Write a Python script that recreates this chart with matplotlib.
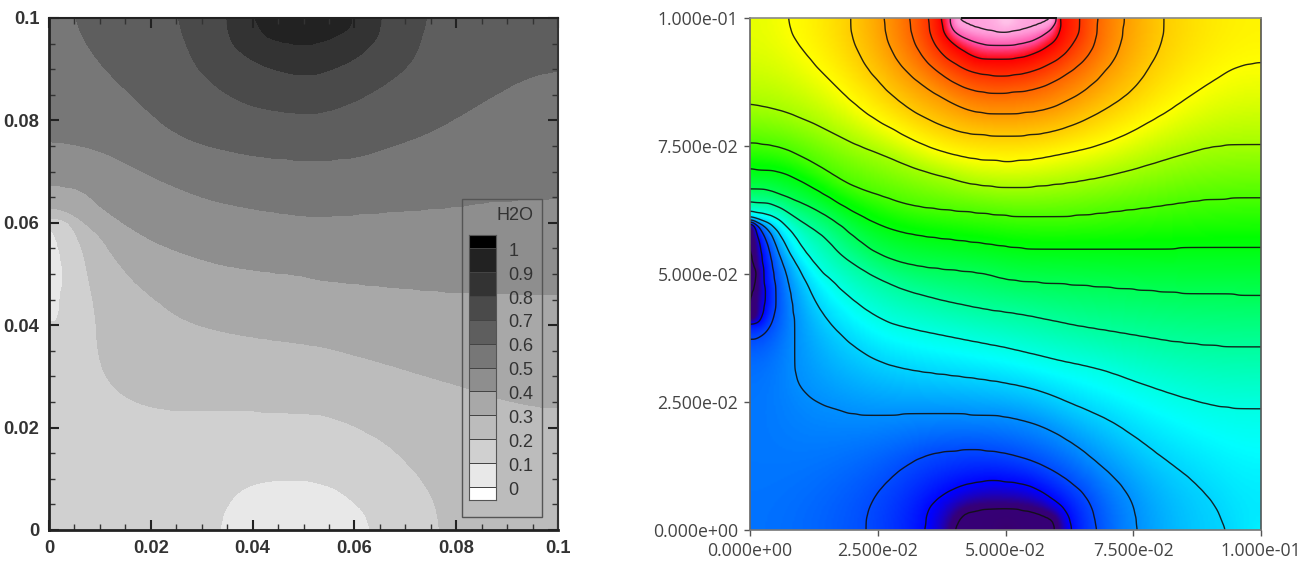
import numpy as np
import matplotlib
matplotlib.use("Agg")
import matplotlib.pyplot as plt
from matplotlib.colors import LinearSegmentedColormap
from matplotlib.patches import Rectangle
from matplotlib.tri import Triangulation, LinearTriInterpolator

# ---------- Left panel: H2O iso-lines (x, y in 1e-3 units) ----------
h2o_levels = [0.1, 0.2, 0.3, 0.4, 0.5, 0.6, 0.7, 0.8, 0.9]
h2o_greys = ['#ffffff', '#e8e8e8', '#d0d0d0', '#bcbcbc', '#a8a8a8', '#8e8e8e', '#777777',
             '#5e5e5e', '#4a4a4a', '#333333', '#222222', '#000000']
h2o_legend_labels = ['0', '0.1', '0.2', '0.3', '0.4', '0.5', '0.6', '0.7', '0.8', '0.9', '1']

h2o_01_bottom = [(33.3,0),(34.3,3.9),(36.9,7.5),(40.8,9.4),(47.3,10.1),(51.3,9.8),(55.9,8.5),(59.8,5.9),(62.4,3.3),(63.6,0)]
h2o_01_left = [(0,59.9),(1.8,57.9),(2.8,52.1),(2.8,46.2),(2.2,40.4),(0,40)]
h2o_02 = [(0,60.9),(3.8,60.2),(6.4,55.3),(7.7,49.5),(9,42.3),(9.7,34.5),(11.3,29.9),(14.6,26.4),(19.8,24.2),(27,23.3),(36.2,23.4),(49.3,22.8),(53.9,22.5),(60.4,20.2),(67,16.3),(72.2,11.1),(75.5,5.9),(76.8,0)]
h2o_03 = [(0,63),(4.1,61.8),(9.4,57.9),(13.3,52.7),(16.6,48.8),(21.2,44.9),(27,41),(36.2,38.4),(49.3,36.5),(53.9,35.8),(63.7,33.2),(73.5,30.3),(81.4,28),(88.6,25.7),(96.8,24.1),(100,24.1)]
h2o_04 = [(0,67.4),(6.1,66.4),(10,63.2),(16.6,58.6),(23.1,55.3),(32.9,52.1),(42.8,50.5),(49.3,49.8),(53.9,48.8),(67,47.5),(80,46.5),(100,46.2)]
h2o_05 = [(0,75.8),(3.5,75.5),(9.4,74.2),(15.3,71.6),(21.8,68.4),(31,64.8),(40.1,62.8),(49.3,61.5),(53.9,61.3),(67,62.2),(80,63.2),(86.6,64.1),(100,64.8)]
h2o_06 = [(5.1,100),(7.4,95),(11.3,89.8),(16.6,84.6),(23.1,78.8),(29.7,75.5),(40.1,73.2),(49.3,72.3),(53.9,72.3),(60.4,72.9),(67,74.9),(74.8,77.8),(81.4,81.4),(88,85.3),(94.5,88.5),(100,89.8)]
h2o_07 = [(25.4,100),(27,95),(29.7,89.8),(34.9,85.3),(40.8,82.7),(49.3,81.4),(53.9,81.7),(60.4,84),(67,87.9),(71.6,92.4),(74.2,100)]
h2o_08 = [(34.9,100),(36.2,95),(41.5,91.1),(49.3,88.9),(53.9,89.5),(60.4,92.4),(64.4,96.3),(65.2,100)]
h2o_09 = [(39.8,100),(42.8,96),(49.3,94.7),(53.9,95.3),(59.1,97.6),(60.1,100)]
h2o_anchor_xy = [(50,100),(50,0),(0,50),(0,0),(100,0),(0,100),(100,100)]
h2o_anchor_v = [0.98,0.05,0.05,0.15,0.25,0.57,0.63]

# ---------- Right panel: iso-lines numbered 1..19 from the lowest value ----------
iso_01_bottom = [(60.3,0),(59.4,2.3),(55,3.9),(48.6,4.4),(45,4.2),(41.4,3.3),(39.5,0)]
iso_01_left = [(0,41.1),(0.65,41.1),(1,43),(1.2,48.8),(1,54.7),(0.5,58.9),(0,59.9)]
iso_02_bottom = [(34.2,0),(34.9,3.9),(37.2,6.5),(41.1,8.5),(45,9.4),(48.6,9.6),(55,8.5),(60.3,5.2),(62.3,2.6),(62.9,0)]
iso_02_left = [(0,40.4),(1.3,40.4),(2.3,41.7),(2.9,44.9),(2.7,49.5),(2.1,54.7),(0.7,59.6),(0,60)]
iso_03_bottom = [(22.7,0),(23.2,3.9),(25.4,7.8),(29.4,11.7),(34.6,14.6),(40.4,15.5),(45,15.6),(50.6,14.8),(57.1,12.7),(63,9.1),(66.5,5.2),(67.9,0)]
iso_03_left = [(0,37.4),(1.3,37.4),(3.6,39.4),(4.9,43),(5,46.9),(4.2,52.7),(2.9,57.3),(1,60),(0,60.2)]
iso_04 = [(0,60.6),(3.6,58.6),(5.9,53.4),(7.4,48.8),(8.5,42.3),(8.7,36),(8.6,33),(9.2,29.3),(10.8,26.8),(13.7,24.7),(17.6,23.4),(19.6,22.8),(24.8,22.3),(32.6,22.7),(45,22.5),(50.6,22),(57.1,20.2),(63.6,16.6),(68.8,12.4),(72.8,8.5),(75,4.6),(75.8,0)]
iso_05 = [(0,61.2),(4.6,59.2),(7.8,54),(10.8,48.8),(13,44.3),(15.7,40.4),(19.6,36.5),(24.8,33.2),(31.3,31.3),(44,29.6),(50.6,28.6),(57.1,27),(63.6,24.4),(70.1,21.5),(75.3,18.2),(80.5,14.3),(86.4,9.8),(90.7,5.2),(93.3,0)]
iso_06 = [(0,62.2),(4.6,61.2),(7.8,58.6),(11.1,54),(14.4,50.1),(16,48.8),(20.2,44.9),(26.1,41),(32.6,39.1),(44,36.8),(50.6,35.5),(60.3,33.2),(68.8,31.3),(76.6,28.6),(84.4,26),(92.3,24.1),(100,23.8)]
iso_07 = [(0,64.1),(4.6,63.5),(9.1,60.9),(14.4,57.3),(17.6,54),(21,51.5),(25.8,48.8),(32.6,46.2),(44,43.5),(53.8,42),(63.6,40),(73.4,38.4),(83.2,36.8),(92.9,35.9),(100,35.8)]
iso_08 = [(0,66.7),(3.3,66.4),(8.5,64.5),(13,62.5),(17.6,59.6),(21,56.8),(25.4,53.8),(32.6,51.6),(45,50.2),(51.2,48.8),(63.6,47.9),(76.6,46.9),(86.4,46.2),(100,45.9)]
iso_09 = [(0,70.5),(6.5,69.7),(13,66.4),(19.6,62.5),(26.1,59.3),(32.6,57.6),(44,56.2),(53.8,55),(63.6,54.7),(76.6,54.8),(89.6,55.2),(100,55.3)]
iso_10 = [(0,75.7),(6.5,74.5),(13,71.3),(19.6,67.4),(26.1,65.1),(32.6,63.2),(44,62),(53.8,61.2),(63.6,61.4),(76.6,62.8),(89.6,64.5),(100,64.8)]
iso_11 = [(0,83.2),(6.5,81.7),(13,79.1),(19.6,75.8),(26.1,73.2),(32.6,70.6),(39.1,68.7),(44,67.5),(52.5,66.9),(63.6,68),(73.4,70),(83.2,72.9),(91,74.9),(100,75.4)]
iso_12 = [(7.4,100),(8.5,96.4),(11.7,92.1),(16.3,87.2),(22.8,81.4),(29.4,77.5),(35.9,74.5),(44,72.5),(52.5,72.1),(60.3,73.3),(70.1,75.8),(79.9,80.7),(88.4,86.3),(94.9,90.2),(100,91.4)]
iso_13 = [(19.6,100),(20.2,95.7),(22.8,90.5),(27.4,85.3),(32.6,81.4),(39.1,78.4),(44,77.3),(52.5,77),(60.3,78.1),(68.1,81.4),(74.7,85.9),(78.6,91.2),(80.6,95.7),(81,100)]
iso_14 = [(26.2,100),(27.1,95),(30,90.2),(34.6,86.3),(39.8,83.3),(44,81.7),(50.6,81.3),(58.4,82.3),(65.5,85.9),(70.8,91.2),(72.7,95.7),(73.2,100)]
iso_15 = [(31.2,100),(32,95.7),(34.6,91.5),(39.1,87.9),(44,85.8),(49.9,85.4),(57,86.5),(63.6,90.2),(67.2,94.4),(68.1,100)]
iso_16 = [(34.9,100),(35.6,96),(37.8,92.8),(41.1,90.5),(44,89.3),(49.2,88.7),(55,89.5),(60.9,92.4),(64.2,96.7),(64.7,100)]
iso_17 = [(37.5,100),(38.2,96.7),(41.1,94.1),(45,92.1),(49.6,91.9),(54.8,92.8),(59.4,95.4),(60.7,98.3),(60.3,100)]
iso_18 = [(39.3,100),(39.4,98.3),(40.8,96.7),(45,95),(49.6,94.6),(54.8,95.4),(58.7,97.7),(60,100)]
iso_19 = [(40.1,100),(40.8,99),(44.3,97.7),(49.6,97.1),(54.8,97.8),(59,99),(59.6,100)]
iso_anchor_xy = [(50,100),(50,0),(0,50),(0,0),(100,0),(0,100),(100,100)]
iso_anchor_v = [20,0.3,0.3,3.6,5.5,11.7,12.2]
iso_top_edge_x = [41.5, 59.9]

rainbow_stops = [0, 1.1, 1.5, 1.9, 5.6, 9.2, 12.0, 17.0, 18, 19, 19.4, 20]
rainbow_colors = ['#3a0066', '#360078', '#1a00c0', '#0000ff', '#00ffff', '#00ff00', '#ffff00',
                  '#ff0000', '#ff50a8', '#ffa0dc', '#ffc0e8', '#ffc8ec']

tick_vals_left = [0, 0.02, 0.04, 0.06, 0.08, 0.1]
tick_text_left = ['0', '0.02', '0.04', '0.06', '0.08', '0.1']
tick_vals_right = [0, 0.025, 0.05, 0.075, 0.1]
tick_text_right = ['0.000e+00', '2.500e-02', '5.000e-02', '7.500e-02', '1.000e-01']

# ---------- Build smooth fields from the iso-lines ----------
N = 300
gx = np.linspace(0, 100, N)
GX, GY = np.meshgrid(gx, gx)


def spline_path(c, sub=24):
    """Catmull-Rom path through the traced points of one iso-line."""
    c = np.asarray(c, float)
    p = np.vstack([2 * c[0] - c[1], c, 2 * c[-1] - c[-2]])
    t = np.linspace(0, 1, sub, endpoint=False)[:, None]
    out = []
    for i in range(1, len(p) - 2):
        a, b, d, e = p[i - 1], p[i], p[i + 1], p[i + 2]
        out.append(0.5 * (2 * b + (d - a) * t + (2 * a - 5 * b + 4 * d - e) * t ** 2 + (3 * b - a - 3 * d + e) * t ** 3))
    out.append(c[-1:])
    return np.vstack(out)


def build_field(curves, anchor_xy, anchor_v, iters=900, blur=1.3):
    xs, ys, vs = [], [], []
    for lev, c in curves:
        for p in c:
            xs.append(p[0]); ys.append(p[1]); vs.append(lev)
    for p, v in zip(anchor_xy, anchor_v):
        xs.append(p[0]); ys.append(p[1]); vs.append(v)
    tri = Triangulation(xs, ys)
    Z = np.asarray(LinearTriInterpolator(tri, vs)(GX, GY).filled(np.mean(vs)))
    fixed = np.zeros_like(Z, bool)
    val = np.zeros_like(Z)
    for lev, c in curves:
        path = spline_path(c)
        s = np.r_[0, np.cumsum(np.hypot(*np.diff(path, axis=0).T))]
        t = np.linspace(0, s[-1], int(s[-1] * 8) + 2)
        px, py = np.interp(t, s, path[:, 0]), np.interp(t, s, path[:, 1])
        i = np.clip(np.round(py / 100 * (N - 1)).astype(int), 0, N - 1)
        j = np.clip(np.round(px / 100 * (N - 1)).astype(int), 0, N - 1)
        fixed[i, j] = True
        val[i, j] = lev
    for p, v in zip(anchor_xy, anchor_v):
        i = int(round(p[1] / 100 * (N - 1))); j = int(round(p[0] / 100 * (N - 1)))
        fixed[i, j] = True; val[i, j] = v
    Z[fixed] = val[fixed]
    for _ in range(iters):
        P = np.pad(Z, 1, mode='edge')
        Z = 0.25 * (P[:-2, 1:-1] + P[2:, 1:-1] + P[1:-1, :-2] + P[1:-1, 2:])
        Z[fixed] = val[fixed]
    r = int(3 * blur)
    kern = np.exp(-0.5 * (np.arange(-r, r + 1) / blur) ** 2)
    kern /= kern.sum()
    P = np.pad(Z, r, mode='reflect')
    P = np.apply_along_axis(lambda a: np.convolve(a, kern, 'valid'), 0, P)
    Z = np.apply_along_axis(lambda a: np.convolve(a, kern, 'valid'), 1, P)
    return Z


h2o_curves = [(0.1, h2o_01_bottom), (0.1, h2o_01_left), (0.2, h2o_02), (0.3, h2o_03), (0.4, h2o_04),
              (0.5, h2o_05), (0.6, h2o_06), (0.7, h2o_07), (0.8, h2o_08), (0.9, h2o_09)]
iso_curves = [(1, iso_01_bottom), (1, iso_01_left), (2, iso_02_bottom), (2, iso_02_left), (3, iso_03_bottom),
              (3, iso_03_left), (4, iso_04), (5, iso_05), (6, iso_06), (7, iso_07), (8, iso_08), (9, iso_09),
              (10, iso_10), (11, iso_11), (12, iso_12), (13, iso_13), (14, iso_14), (15, iso_15), (16, iso_16),
              (17, iso_17), (18, iso_18), (19, iso_19)]
Z_left = build_field(h2o_curves, h2o_anchor_xy, h2o_anchor_v)
Z_right = build_field(iso_curves, iso_anchor_xy, iso_anchor_v)

# ---------- Figure ----------
W, H = 1305, 561
fig = plt.figure(figsize=(W / 100, H / 100), dpi=100, facecolor='white')


def box(x0, y0, x1, y1):
    return [x0 / W, 1 - y1 / H, (x1 - x0) / W, (y1 - y0) / H]


# Left panel
ax = fig.add_axes(box(49, 18, 558, 530))
X, Y = GX * 1e-3, GY * 1e-3
bounds = [-1] + h2o_levels + [2]
cs = ax.contourf(X, Y, Z_left, levels=bounds, colors=h2o_greys[1:11])
cs.set_edgecolor('face')
cs.set_linewidth(0.4)
ax.set_xlim(0, 0.1)
ax.set_ylim(0, 0.1)
ax.set_xticks(tick_vals_left, tick_text_left)
ax.set_yticks(tick_vals_left, tick_text_left)
ax.set_xticks(np.arange(0, 0.1001, 0.005), minor=True)
ax.set_yticks(np.arange(0, 0.1001, 0.005), minor=True)
ax.tick_params(which='major', direction='in', length=7.5, width=1.5, color='#222222', top=True, right=True)
ax.tick_params(which='minor', direction='in', length=4.5, width=1.0, color='#333333', top=True, right=True)
ax.tick_params(axis='x', which='major', pad=7)
ax.tick_params(axis='y', which='major', pad=7)
for lab in ax.get_xticklabels() + ax.get_yticklabels():
    lab.set_fontfamily('Liberation Sans')
    lab.set_fontweight('bold')
    lab.set_fontsize(13.2)
    lab.set_color('#333333')
for side, lw, col in [('left', 2.0, '#222222'), ('bottom', 2.0, '#222222'), ('right', 1.5, '#333333'), ('top', 1.5, '#222222')]:
    ax.spines[side].set_linewidth(lw)
    ax.spines[side].set_color(col)

# Left legend
fig.add_artist(Rectangle((462 / W, 1 - 517 / H), 80 / W, 318 / H, transform=fig.transFigure,
                         fill=False, edgecolor='#555555', linewidth=1.0))
leg = fig.add_axes(box(469, 235, 496, 500))
edges = [-0.054] + [i / 10 for i in range(11)] + [1.054]
leg.pcolormesh([0, 1], edges, np.arange(12).reshape(-1, 1),
               cmap=matplotlib.colors.ListedColormap(h2o_greys), vmin=-0.5, vmax=11.5,
               edgecolors='#444444', linewidth=0.5)
leg.set_xlim(0, 1)
leg.set_ylim(edges[0], edges[-1])
leg.set_xticks([])
leg.set_yticks([])
for s in leg.spines.values():
    s.set_color('#555555')
    s.set_linewidth(0.8)
for i, t in enumerate(h2o_legend_labels):
    leg.annotate(t, (1, i / 10), xytext=(8.8, -2.4), textcoords='offset points', ha='left', va='center',
                 fontfamily='Liberation Sans', fontsize=13, color='#333333', annotation_clip=False)
fig.text(533 / W, 1 - 215 / H, 'H2O', ha='right', va='center', fontfamily='Liberation Sans', fontsize=13, color='#333333')

# Right panel
ax2 = fig.add_axes(box(750, 18, 1261, 530))
cmap = LinearSegmentedColormap.from_list('rb', [(s / 20, c) for s, c in zip(rainbow_stops, rainbow_colors)], N=512)
ax2.imshow(Z_right, origin='lower', extent=[0, 0.1, 0, 0.1], cmap=cmap, vmin=0, vmax=20,
           aspect='auto', interpolation='bilinear')
ax2.contour(X, Y, Z_right, levels=np.arange(1, 20), colors='#111111', linewidths=1.0, alpha=0.9)
ax2.plot(np.array(iso_top_edge_x) * 1e-3, [0.1, 0.1], color='#111111', lw=1.4, clip_on=False, zorder=5)
ax2.set_xlim(0, 0.1)
ax2.set_ylim(0, 0.1)
ax2.set_xticks(tick_vals_right, tick_text_right)
ax2.set_yticks(tick_vals_right, tick_text_right)
ax2.tick_params(direction='out', length=4.5, width=1.0, color='#555555', labelsize=12.7, labelcolor='#444444', pad=4)
for lab in ax2.get_xticklabels() + ax2.get_yticklabels():
    lab.set_fontfamily('Open Sans')
for side, col in [('left', '#666666'), ('bottom', '#777777'), ('right', '#555555'), ('top', '#888888')]:
    ax2.spines[side].set_color(col)
    ax2.spines[side].set_linewidth(1.2)

fig.savefig('out.png', dpi=100, facecolor='white')
